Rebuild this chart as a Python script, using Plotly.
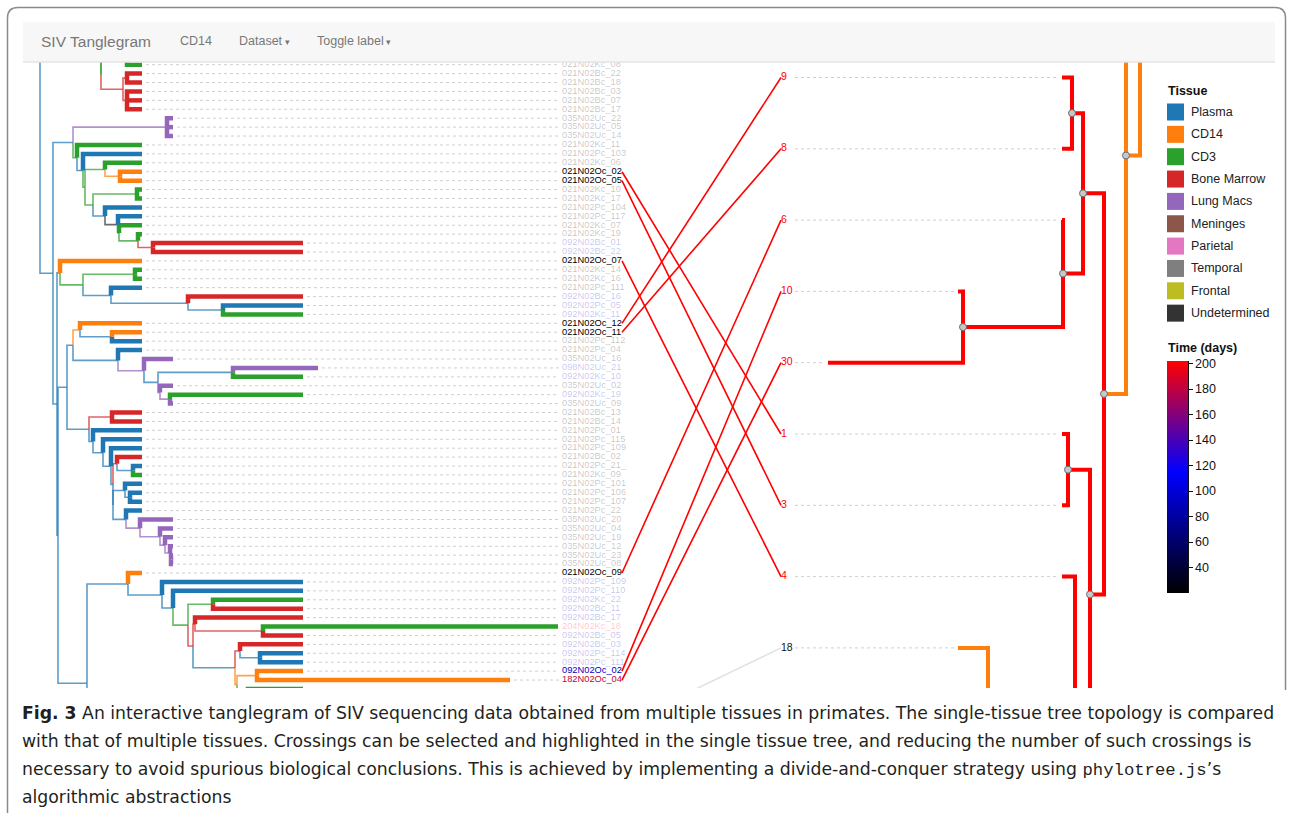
import plotly.graph_objects as go

# ----------------------------------------------------------------------------
# Data
# ----------------------------------------------------------------------------
TISSUE_NAMES = ["Plasma", "CD14", "CD3", "Bone Marrow", "Lung Macs",
                "Meninges", "Parietal", "Temporal", "Frontal", "Undetermined"]
TISSUE_CODES = ["P", "O", "K", "B", "U", "M", "R", "T", "F", "X"]
TISSUE_COLORS = ["#1f77b4", "#ff7f0e", "#2ca02c", "#d62728", "#9467bd",
                 "#8c564b", "#e377c2", "#7f7f7f", "#bcbd22", "#333333"]
SELECTED_TISSUE = "O"          # CD14

# Sampling time (days) colour scale, used for the leaf labels
TIME_DOMAIN = [20, 202]
TIME_SCALE = [[0.0, "#000000"], [0.522, "#0000ff"], [1.0, "#ff0000"]]
TIME_TICKS = [40, 60, 80, 100, 120, 140, 160, 180, 200]

# Multi-tissue tree (Newick, internal labels = inferred tissue code).
# Leaves starting with "*" lie outside the scrolled viewport.
TOP_CLADE = ("((*K:0.022,*K:0.022)K:0.019,"
             "((*K:0.015,021N02Kc_08:0.015)K:0.026,"
             "((021N02Bc_22:0.015,021N02Bc_18:0.015)B:0.004,"
             "(021N02Bc_03:0.015,021N02Bc_07:0.015,021N02Bc_17:0.015)B:0.004)B:0.022)K:0.000)P:0.061")
CLADE_N1 = ("((035N02Uc_22:0.006,035N02Uc_05:0.006,035N02Uc_14:0.006)U:0.094,"
            "(021N02Kc_11:0.065,"
            "(021N02Pc_103:0.059,"
            "((021N02Kc_06:0.037,(021N02Oc_02:0.022,021N02Oc_05:0.022)O:0.015)K:0.020,"
            "((021N02Kc_10:0.005,021N02Kc_17:0.005)K:0.044,"
            "(021N02Pc_104:0.037,"
            "(021N02Pc_117:0.024,"
            "(021N02Kc_07:0.023,"
            "(021N02Kc_19:0.004,(092N02Bc_01:0.150,092N02Bc_22:0.150)B:0.015)K:0.019"
            ")K:0.001)X:0.013)P:0.012)K:0.008)K:0.002)P:0.006)K:0.004)P:0.020")
CLADE_A = ("(021N02Oc_07:0.082,"
           "((021N02Kc_14:0.007,021N02Kc_16:0.007)K:0.052,"
           "(021N02Pc_111:0.031,"
           "(092N02Bc_16:0.115,(092N02Pc_05:0.080,092N02Kc_11:0.080)P:0.035)P:0.077"
           ")P:0.028)K:0.023)P:0.003")
CLADE_C1 = ("((021N02Oc_12:0.062,(021N02Oc_11:0.030,021N02Pc_112:0.030)P:0.032)O:0.007,"
            "(021N02Pc_04:0.024,"
            "(035N02Uc_16:0.029,"
            "((098N02Uc_21:0.085,092N02Kc_10:0.070)P:0.075,"
            "(035N02Uc_02:0.013,(092N02Kc_19:0.133,035N02Uc_09:0.003)U:0.010)U:0.002"
            ")P:0.014)U:0.026)P:0.045)P:0.006")
CLADE_C2 = ("((021N02Bc_13:0.030,021N02Bc_14:0.030)B:0.023,"
            "(021N02Pc_01:0.049,"
            "(021N02Pc_115:0.039,"
            "(021N02Pc_109:0.031,"
            "((021N02Bc_02:0.025,(021N02Pc_21_:0.009,021N02Kc_09:0.009)P:0.016)B:0.004,"
            "((021N02Pc_101:0.017,(021N02Pc_106:0.012,021N02Pc_107:0.012)P:0.005)P:0.012,"
            "(021N02Pc_22:0.016,"
            "(035N02Uc_20:0.033,(035N02Uc_04:0.013,(035N02Uc_19:0.008,(035N02Uc_12:0.003,"
            "(035N02Uc_23:0.002,035N02Uc_08:0.002)U:0.001)U:0.005)U:0.005)U:0.020)U:0.014"
            ")P:0.013)P:0.000)P:0.002)P:0.008)P:0.010)P:0.004)P:0.022")
CLADE_V = ("(021N02Oc_09:0.014,"
           "(092N02Pc_109:0.141,"
           "(092N02Pc_110:0.130,"
           "((092N02Kc_22:0.090,092N02Bc_11:0.090)K:0.025,"
           "((092N02Bc_17:0.108,(204N02Kc_18:0.295,092N02Bc_05:0.040)B:0.068)B:0.002,"
           "((092N02Bc_03:0.063,(092N02Pc_114:0.043,092N02Pc_111:0.043)P:0.020)B:0.005,"
           "((092N02Oc_02:0.046,182N02Oc_04:0.253)O:0.020,(*K:0.055,*K:0.055)K:0.011)O:0.002"
           ")P:0.042)B:0.005)K:0.015)P:0.011)P:0.034)P:0.041")
CLADE_W = ("(*P:0.040,*P:0.040,*Oa:0.040,*P:0.040,*P:0.040,*P:0.040,*P:0.040,*P:0.040,*P:0.040,"
           "*P:0.040,*P:0.040,*P:0.040,*P:0.040,*P:0.040,*P:0.040,*P:0.040,*P:0.040,*P:0.040)P:0.013")
LEFT_TREE = ("(" + TOP_CLADE + ",(" + CLADE_N1 + ",(" + CLADE_A + ",((" + CLADE_C1 + "," + CLADE_C2
             + ")P:0.009,(" + CLADE_V + "," + CLADE_W + ")P:0.029)P:0.001)P:0.004)P:0.013)P;")

# Single-tissue (CD14) tree
RIGHT_TREE = ("(*O:0.080,((*O:0.048,(*O:0.030,*O:0.030)O:0.018)O:0.016,"
              "(((9:0.010,8:0.010)O:0.011,(6:0.001,(10:0.005,30:0.135)O:0.100)O:0.020)O:0.021,"
              "((1:0.006,3:0.006)O:0.022,"
              "(4:0.013,((18:0.030,*O:0.030,*O:0.030)O:0.012,*O:0.040,*O:0.040,*O:0.040)O:0.075)O:0.015"
              ")O:0.014)O:0.022)O:0.014)O;")

# Leaves taking part in the selected crossings
HIGHLIGHTED = ["9", "8", "6", "10", "30", "1", "3", "4"]
LINK_LEFT = ["021N02Oc_02", "021N02Oc_05", "021N02Oc_07", "021N02Oc_12",
             "021N02Oc_11", "021N02Oc_09", "092N02Oc_02", "182N02Oc_04", "*Oa"]
LINK_RIGHT = ["1", "3", "4", "9", "8", "6", "10", "30", "18"]

NAV_TITLE = "SIV Tanglegram"
NAV_ITEMS = ["CD14", "Dataset", "Toggle label"]
CAPTION_LINES = [
    "<b>Fig. 3</b> An interactive tanglegram of SIV sequencing data obtained from multiple tissues "
    "in primates. The single-tissue tree topology is compared",
    "with that of multiple tissues. Crossings can be selected and highlighted in the single tissue "
    "tree, and reducing the number of such crossings is",
    "necessary to avoid spurious biological conclusions. This is achieved by implementing a "
    "divide-and-conquer strategy using <span style='font-family:Liberation Mono'>phylotree.js</span>\u2019s",
    "algorithmic abstractions",
]

# ----------------------------------------------------------------------------
# Page geometry
# ----------------------------------------------------------------------------
FIG_W, FIG_H = 1292, 813
VIEW_TOP, VIEW_BOTTOM = 62, 688
ROW_PX, FIRST_ROW_PX = 8.918, 64.7
RIGHT_ROW_PX, RIGHT_FIRST_PX = 71.3, 77.5
LEFT_ORIGIN_PX, RIGHT_ORIGIN_PX, PX_PER_UNIT = 40, 1140, 1000.0
LEFT_LABEL_PX, LEFT_LINK_PX = 562, 622
RIGHT_LABEL_PX, RIGHT_DASH_PX = 781, 795
FONT = "Liberation Sans"
CAPTION_FONT = "DejaVu Sans"


def parse_newick(text):
    s = "".join(text.split())
    pos = 0

    def node():
        nonlocal pos
        children = []
        if s[pos] == "(":
            pos += 1
            while True:
                children.append(node())
                if s[pos] == ",":
                    pos += 1
                    continue
                pos += 1
                break
        start = pos
        while pos < len(s) and s[pos] not in ":,();":
            pos += 1
        label = s[start:pos]
        length = 0.0
        if pos < len(s) and s[pos] == ":":
            pos += 1
            start = pos
            while pos < len(s) and s[pos] not in ",();":
                pos += 1
            length = float(s[start:pos])
        return {"label": label, "length": length, "children": children}

    return node()


def layout_tree(root):
    leaves = []

    def walk(n, depth):
        n["depth"] = depth
        lab = n["label"]
        if n["children"]:
            n["code"], n["name"] = (lab or "P"), None
            for c in n["children"]:
                walk(c, depth + c["length"])
            n["row"] = (n["children"][0]["row"] + n["children"][-1]["row"]) / 2
        else:
            if lab.startswith("*"):
                n["code"], n["name"] = lab[1], None
            else:
                n["code"] = lab[6] if len(lab) > 6 else SELECTED_TISSUE
                n["name"] = lab
            n["row"] = float(len(leaves))
            leaves.append(n)

    walk(root, 0.0)
    return leaves


def all_edges(n):
    for c in n["children"]:
        yield n, c
        yield from all_edges(c)


def all_nodes(n):
    yield n
    for c in n["children"]:
        yield from all_nodes(c)


def hex_rgb(h):
    return tuple(int(h[i:i + 2], 16) for i in (1, 3, 5))


def rgba(h, a):
    r, g, b = hex_rgb(h)
    return f"rgba({r},{g},{b},{a})"


def time_rgb(days):
    t = (days - TIME_DOMAIN[0]) / (TIME_DOMAIN[1] - TIME_DOMAIN[0])
    t = min(max(t, 0.0), 1.0)
    for (t0, c0), (t1, c1) in zip(TIME_SCALE[:-1], TIME_SCALE[1:]):
        if t <= t1:
            f = (t - t0) / (t1 - t0)
            a, b = hex_rgb(c0), hex_rgb(c1)
            return tuple(round(a[i] + (b[i] - a[i]) * f) for i in range(3))
    return hex_rgb(TIME_SCALE[-1][1])


COLOR_OF = dict(zip(TISSUE_CODES, TISSUE_COLORS))

# ----------------------------------------------------------------------------
# Tree layouts
# ----------------------------------------------------------------------------
left_root = parse_newick(LEFT_TREE)
left_leaves = layout_tree(left_root)
row0 = next(l["row"] for l in left_leaves if l["name"])
for n in all_nodes(left_root):
    n["y"] = n["row"] - row0

right_root = parse_newick(RIGHT_TREE)
right_leaves = layout_tree(right_root)
rrow0 = next(l["row"] for l in right_leaves if l["name"])
for n in all_nodes(right_root):
    n["y"] = (RIGHT_FIRST_PX - FIRST_ROW_PX + (n["row"] - rrow0) * RIGHT_ROW_PX) / ROW_PX


def count_hl(n):
    if not n["children"]:
        n["hl"] = 1 if n["name"] in HIGHLIGHTED else 0
    else:
        n["hl"] = sum(count_hl(c) for c in n["children"])
    return n["hl"]


count_hl(right_root)
n_hl = len(HIGHLIGHTED)

fig = go.Figure()

# ---- left (multi-tissue) tree -----------------------------------------------
groups = {}
for p, c in all_edges(left_root):
    key = (c["code"], not c["children"])
    xs, ys = groups.setdefault(key, ([], []))
    xs += [p["depth"], p["depth"], c["depth"], None]
    ys += [p["y"], c["y"], c["y"], None]

for leaf_flag in (False, True):
    for (code, is_leaf), (xs, ys) in groups.items():
        if is_leaf != leaf_flag:
            continue
        fig.add_trace(go.Scatter(
            x=xs, y=ys, mode="lines", hoverinfo="skip",
            line=dict(color=COLOR_OF[code] if is_leaf else rgba(COLOR_OF[code], 0.72),
                      width=4.5 if is_leaf else 1.6),
        ))

label_x = (LEFT_LABEL_PX - LEFT_ORIGIN_PX) / PX_PER_UNIT
dx, dy = [], []
for l in left_leaves:
    if l["name"] and l["depth"] < label_x - 0.006:
        dx += [l["depth"] + 0.004, label_x - 0.003, None]
        dy += [l["y"], l["y"], None]
fig.add_trace(go.Scatter(x=dx, y=dy, mode="lines", hoverinfo="skip",
                         line=dict(color="#cfcfcf", width=1, dash="3px,3px")))

named_left = [l for l in left_leaves if l["name"]]
label_colors = []
for l in named_left:
    r, g, b = time_rgb(int(l["name"][:3]))
    alpha = 1.0 if l["code"] == SELECTED_TISSUE else 0.24
    label_colors.append(f"rgba({r},{g},{b},{alpha})")
fig.add_trace(go.Scatter(
    x=[label_x] * len(named_left), y=[l["y"] for l in named_left],
    text=[l["name"] for l in named_left], mode="text", textposition="middle right",
    textfont=dict(family=FONT, size=9.3, color=label_colors), hoverinfo="skip",
))

# ---- right (single-tissue) tree ---------------------------------------------
rgroups = {}
for p, c in all_edges(right_root):
    col = "#ff0000" if 0 < c["hl"] < n_hl else COLOR_OF[c["code"]]
    xs, ys = rgroups.setdefault(col, ([], []))
    xs += [p["depth"], p["depth"], c["depth"], None]
    ys += [p["y"], c["y"], c["y"], None]
for col, (xs, ys) in rgroups.items():
    fig.add_trace(go.Scatter(x=xs, y=ys, mode="lines", xaxis="x2", yaxis="y",
                             hoverinfo="skip", line=dict(color=col, width=4)))

inner = [n for n in all_nodes(right_root) if n["children"]]
fig.add_trace(go.Scatter(
    x=[n["depth"] for n in inner], y=[n["y"] for n in inner], mode="markers",
    xaxis="x2", yaxis="y", hoverinfo="skip",
    marker=dict(size=7, color="#c8c8c8", line=dict(color="#6e6e6e", width=1)),
))

rlabel_x = (RIGHT_ORIGIN_PX - RIGHT_LABEL_PX) / PX_PER_UNIT
rdash_x = (RIGHT_ORIGIN_PX - RIGHT_DASH_PX) / PX_PER_UNIT
named_right = [l for l in right_leaves if l["name"]]
rx, ry = [], []
for l in named_right:
    rx += [rdash_x, l["depth"] + 0.003, None]
    ry += [l["y"], l["y"], None]
fig.add_trace(go.Scatter(x=rx, y=ry, mode="lines", xaxis="x2", yaxis="y", hoverinfo="skip",
                         line=dict(color="#cfcfcf", width=1, dash="3px,3px")))
fig.add_trace(go.Scatter(
    x=[rlabel_x] * len(named_right), y=[l["y"] for l in named_right],
    text=[l["name"] for l in named_right], mode="text", textposition="middle right",
    xaxis="x2", yaxis="y", hoverinfo="skip",
    textfont=dict(family=FONT, size=10.5,
                  color=["#ff0000" if l["name"] in HIGHLIGHTED else "#111111" for l in named_right]),
))

# ---- tanglegram links --------------------------------------------------------
left_by_label = {l["label"]: l for l in left_leaves}
right_by_label = {l["label"]: l for l in right_leaves}
link_x0 = (LEFT_LINK_PX - LEFT_ORIGIN_PX) / PX_PER_UNIT
link_x1 = (RIGHT_LABEL_PX - LEFT_ORIGIN_PX) / PX_PER_UNIT
for on in (False, True):
    lx, ly = [], []
    for a, b in zip(LINK_LEFT, LINK_RIGHT):
        if (b in HIGHLIGHTED) != on:
            continue
        lx += [link_x0, link_x1, None]
        ly += [left_by_label[a]["y"], right_by_label[b]["y"], None]
    fig.add_trace(go.Scatter(x=lx, y=ly, mode="lines", hoverinfo="skip",
                             line=dict(color="#ff0000" if on else "#e2e2e2", width=1.6)))

# ---- time colour bar ---------------------------------------------------------
fig.add_trace(go.Scatter(
    x=[None], y=[None], mode="markers", hoverinfo="skip",
    marker=dict(color=[TIME_DOMAIN[0]], cmin=TIME_DOMAIN[0], cmax=TIME_DOMAIN[1],
                colorscale=TIME_SCALE, showscale=True,
                colorbar=dict(x=1167 / FIG_W, xanchor="left", xpad=0,
                              y=1 - 361 / FIG_H, yanchor="top", ypad=0,
                              len=232, lenmode="pixels", thickness=21, thicknessmode="pixels",
                              outlinewidth=0, ticks="outside", ticklen=5, tickwidth=1,
                              tickcolor="#111", tickvals=TIME_TICKS,
                              tickfont=dict(family=FONT, size=12.5, color="#111"))),
))

# ---- tissue legend -----------------------------------------------------------
LEG_X, LEG_Y, LEG_STEP = 1167, 112, 22.35
fig.add_trace(go.Scatter(
    x=[LEG_X + 8.5] * len(TISSUE_NAMES), y=[LEG_Y + i * LEG_STEP for i in range(len(TISSUE_NAMES))],
    mode="markers", xaxis="x3", yaxis="y3", hoverinfo="skip",
    marker=dict(symbol="square", size=17, color=TISSUE_COLORS, line=dict(width=0)),
))

annotations = [dict(x=LEG_X - 1, y=91, text="<b>Tissue</b>", showarrow=False, xanchor="left",
                    yanchor="middle", xref="x3", yref="y3",
                    font=dict(family=FONT, size=12.5, color="#111"))]
for i, name in enumerate(TISSUE_NAMES):
    annotations.append(dict(x=LEG_X + 22, y=LEG_Y + i * LEG_STEP, text=name, showarrow=False,
                            xanchor="left", yanchor="middle", xref="x3", yref="y3",
                            font=dict(family=FONT, size=12.5, color="#222")))
annotations.append(dict(x=LEG_X - 1, y=348, text="<b>Time (days)</b>", showarrow=False,
                        xanchor="left", yanchor="middle", xref="x3", yref="y3",
                        font=dict(family=FONT, size=12.5, color="#111")))

# ---- navigation bar ---------------------------------------------------------
annotations.append(dict(x=39, y=41, text=NAV_TITLE, showarrow=False, xanchor="left",
                        yanchor="middle", xref="x3", yref="y3",
                        font=dict(family=FONT, size=15.5, color="#777")))
nav_x = [178, 237, 315]
for x, item, caret in zip(nav_x, NAV_ITEMS, ["", " \u25be", " \u25be"]):
    annotations.append(dict(x=x, y=41, text=item + f"<span style='font-size:9px'>{caret}</span>",
                            showarrow=False, xanchor="left", yanchor="middle",
                            xref="x3", yref="y3", font=dict(family=FONT, size=12.5, color="#777")))

# ---- caption ----------------------------------------------------------------
for i, line in enumerate(CAPTION_LINES):
    annotations.append(dict(x=20, y=713 + i * 28, text=line, showarrow=False, xanchor="left",
                            yanchor="middle", xref="x3", yref="y3",
                            font=dict(family=CAPTION_FONT, size=17.25, color="#231f20")))

shapes = [
    # browser frame
    dict(type="path", xref="x3", yref="y3", layer="above",
         path="M 7.5 813 L 7.5 18 Q 7.5 7.5 18 7.5 L 1275 7.5 Q 1285.5 7.5 1285.5 18 L 1285.5 690",
         line=dict(color="#8a8a8a", width=1.5)),
    # navigation bar
    dict(type="rect", xref="x3", yref="y3", x0=23, x1=1275, y0=22, y1=62, layer="above",
         fillcolor="#f7f7f7", line=dict(width=0)),
    dict(type="line", xref="x3", yref="y3", x0=23, x1=1275, y0=62, y1=62, layer="above",
         line=dict(color="#e4e4e4", width=1.5)),
    # colour-bar axis line
    dict(type="line", xref="x3", yref="y3", x0=1188.5, x1=1188.5, y0=361, y1=593, layer="above",
         line=dict(color="#111", width=1)),
]

fig.update_layout(
    width=FIG_W, height=FIG_H, margin=dict(l=0, r=0, t=0, b=0),
    paper_bgcolor="white", plot_bgcolor="rgba(0,0,0,0)", showlegend=False,
    xaxis=dict(domain=[0, 1], visible=False, fixedrange=True,
               range=[-LEFT_ORIGIN_PX / PX_PER_UNIT, (FIG_W - LEFT_ORIGIN_PX) / PX_PER_UNIT]),
    xaxis2=dict(overlaying="x", anchor="y", visible=False, fixedrange=True,
                range=[RIGHT_ORIGIN_PX / PX_PER_UNIT, (RIGHT_ORIGIN_PX - FIG_W) / PX_PER_UNIT]),
    yaxis=dict(domain=[1 - VIEW_BOTTOM / FIG_H, 1 - VIEW_TOP / FIG_H], visible=False, fixedrange=True,
               range=[(VIEW_BOTTOM - FIRST_ROW_PX) / ROW_PX, (VIEW_TOP - FIRST_ROW_PX) / ROW_PX]),
    xaxis3=dict(domain=[0, 1], anchor="y3", range=[0, FIG_W], visible=False, fixedrange=True),
    yaxis3=dict(domain=[0, 1], anchor="x3", range=[FIG_H, 0], visible=False, fixedrange=True),
    annotations=annotations, shapes=shapes,
)

fig.write_html("out.html", config={"displayModeBar": False, "staticPlot": True})
